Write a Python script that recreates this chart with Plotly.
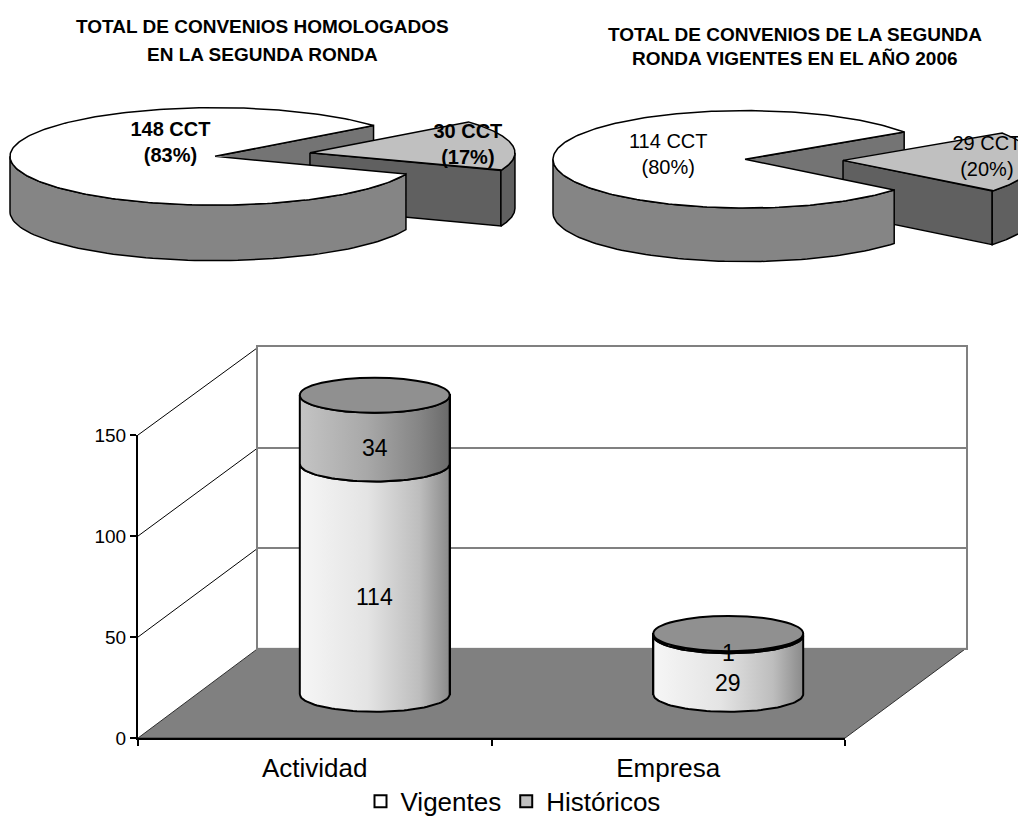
import numpy as np
import plotly.graph_objects as go

OFF = 8                      # default page margin of the html body
W, H = 1026, 835             # browser window
FW, FH = W - OFF, H - 2 * OFF  # figure size so that the page fits in the window
FONT = "Liberation Sans, Arial, sans-serif"

# ---------------- data ----------------
pie_left_title = ["TOTAL DE CONVENIOS HOMOLOGADOS", "EN LA SEGUNDA RONDA"]
pie_right_title = ["TOTAL DE CONVENIOS DE LA SEGUNDA", "RONDA VIGENTES EN EL AÑO 2006"]
pie_slices = ["Actividad", "Empresa"]
pie_left_values = [148, 30]
pie_right_values = [114, 29]

categories = ["Actividad", "Empresa"]
vigentes = [114, 29]
historicos = [34, 1]
y_ticks = [0, 50, 100, 150]

# ---------------- helpers (window pixels -> paper) ----------------
def fx(px):
    return (px - OFF) / FW


def fy(py):
    return 1 - (py - OFF) / FH


def ell(cx, cy, rx, ry, a_deg):
    a = np.radians(a_deg)
    return cx + rx * np.cos(a), cy - ry * np.sin(a)


def poly(xs, ys, fill, lw=1.5):
    xs = list(xs) + [xs[0]]
    ys = list(ys) + [ys[0]]
    return go.Scatter(x=xs, y=ys, mode="lines", fill="toself", fillcolor=fill,
                      line=dict(color="black", width=lw), xaxis="x2", yaxis="y2",
                      hoverinfo="skip", showlegend=False)


def pie3d(values, cx, cy, rx, ry, depth, small_center, explode,
          tops, sides, radials, label_r, label_dy, bold):
    total = sum(values)
    spans = [360 * v / total for v in values]
    start = small_center + spans[1] / 2
    a0s = [start, start + spans[0]]
    a1s = [start + spans[0], start + 360]
    apex = []
    for i in range(2):
        mid = (a0s[i] + a1s[i]) / 2
        d = explode if i == 1 else 0
        ox, oy = ell(0, 0, rx * d, ry * d, mid)
        apex.append((cx + ox, cy + oy))
    traces = []
    # radial walls
    for i in [0, 1]:
        px, py = apex[i]
        for a, vis in [(a0s[i], np.cos(np.radians(a0s[i])) > 0),
                       (a1s[i], np.cos(np.radians(a1s[i])) < 0)]:
            if vis:
                ex, ey = ell(px, py, rx, ry, a)
                traces.append(poly([px, ex, ex, px], [py, ey, ey + depth, py + depth], radials[i]))
    # outer curved walls
    for i in [1, 0]:
        px, py = apex[i]
        for k in [-1, 0, 1]:
            lo = max(a0s[i], 180 + 360 * k)
            hi = min(a1s[i], 360 + 360 * k)
            if hi > lo:
                t = np.linspace(lo, hi, 80)
                xs, ys = ell(px, py, rx, ry, t)
                X = list(xs) + list(xs[::-1])
                Y = list(ys) + list((ys + depth)[::-1])
                traces.append(poly(X, Y, sides[i]))
    # top faces
    for i in [0, 1]:
        px, py = apex[i]
        t = np.linspace(a0s[i], a1s[i], 240)
        xs, ys = ell(px, py, rx, ry, t)
        traces.append(poly([px] + list(xs), [py] + list(ys), tops[i]))
    # labels
    lx, ly, lt = [], [], []
    for i in range(2):
        px, py = apex[i]
        mid = (a0s[i] + a1s[i]) / 2
        x, y = ell(px, py, rx * label_r[i], ry * label_r[i], mid)
        lx.append(x)
        ly.append(y + label_dy[i])
        lt.append(f"{values[i]} CCT<br>({round(100 * values[i] / total)}%)")
    traces.append(go.Scatter(x=lx, y=ly, text=lt, mode="text", xaxis="x2", yaxis="y2",
                             textfont=dict(family=FONT, size=20, color="black",
                                           weight="bold" if bold else "normal"),
                             hoverinfo="skip", showlegend=False, cliponaxis=False))
    return traces


fig = go.Figure()

# invisible anchors so the wall and front axes are drawn
fig.add_trace(go.Scatter(x=[0.5], y=[0], mode="markers", marker=dict(opacity=0),
                         xaxis="x", yaxis="y", hoverinfo="skip", showlegend=False))
xs_idx = list(range(len(categories)))
fig.add_trace(go.Scatter(x=xs_idx, y=[0] * len(xs_idx), mode="markers", marker=dict(opacity=0),
                         xaxis="x3", yaxis="y3", hoverinfo="skip", showlegend=False))

# ---------------- pies ----------------
for tr in pie3d(pie_left_values, 215, 150, 205, 50, 57, 9, 0.469,
                tops=["#ffffff", "#c0c0c0"], sides=["#858585", "#606060"],
                radials=["#747474", "#606060"], label_r=[0.22, 0.78], label_dy=[-14, -1],
                bold=True):
    fig.add_trace(tr)
for tr in pie3d(pie_right_values, 745, 153, 192, 50, 55, -2.5, 0.511,
                tops=["#ffffff", "#c0c0c0"], sides=["#858585", "#606060"],
                radials=["#747474", "#606060"], label_r=[0.4, 0.75], label_dy=[-2, -4],
                bold=False):
    fig.add_trace(tr)

# ---------------- bars (cylinders) ----------------
VIG_LEG = "#ffffff"
HIS_LEG = "#c0c0c0"
TOP_C = "#909090"
VIG_GRAD = [[0, "#f6f6f6"], [0.45, "#e4e4e4"], [0.8, "#bdbdbd"], [1, "#8a8a8a"]]
HIS_GRAD = [[0, "#c4c4c4"], [0.45, "#a8a8a8"], [0.8, "#858585"], [1, "#6a6a6a"]]
BW = 0.424
RY = 8.7

fig.add_trace(go.Bar(x=xs_idx, y=vigentes, name="Vigentes", width=BW,
                     marker=dict(color=VIG_LEG, line=dict(color="black", width=2)),
                     hovertext=categories, xaxis="x4", yaxis="y4"))
fig.add_trace(go.Bar(x=xs_idx, y=historicos, name="Históricos", width=BW,
                     marker=dict(color=HIS_LEG, line=dict(color="black", width=2)),
                     hovertext=categories, xaxis="x4", yaxis="y4"))


def cylinder_face(xc, base, top, grad):
    """Front face of a cylinder segment, computed from the stacked values."""
    t1 = np.linspace(np.pi, 2 * np.pi, 60)
    t2 = t1[::-1]
    xs = list(xc + (BW / 2) * np.cos(t1)) + list(xc + (BW / 2) * np.cos(t2))
    ys = list(base + RY * np.sin(t1)) + list(top + RY * np.sin(t2))
    xs.append(xs[0])
    ys.append(ys[0])
    return go.Scatter(x=xs, y=ys, mode="lines", fill="toself",
                      fillgradient=dict(type="horizontal", colorscale=grad),
                      line=dict(color="black", width=2), xaxis="x4", yaxis="y4",
                      hoverinfo="skip", showlegend=False)


for i, (v, h) in enumerate(zip(vigentes, historicos)):
    fig.add_trace(cylinder_face(i, 0, v, VIG_GRAD))
for i, (v, h) in enumerate(zip(vigentes, historicos)):
    fig.add_trace(cylinder_face(i, v, v + h, HIS_GRAD))

# geometry of the pseudo-3D frame (window pixels)
FL, FR, FB, FT = 138, 845, 747, 436        # front axes
BL, BR, BB, BT = 258, 966, 655, 346        # back wall
K = (702 - 391) / 150                       # bar axis px/unit
BAR_L, BAR_R, BAR_B = 198, 905, 702
YMIN, YMAX = -15, 170

shapes = []
# floor
shapes.append(dict(type="path", xref="paper", yref="paper", layer="below",
                   path=f"M {fx(FL)},{fy(FB)} L {fx(BL)},{fy(BB)} L {fx(BR)},{fy(BB)} L {fx(FR)},{fy(FB)} Z",
                   fillcolor="#808080", line=dict(color="#303030", width=1)))
# left wall diagonals
for v in y_ticks[1:]:
    y_front = FB - (FB - FT) * v / 150
    y_back = BB - (BB - BT) * v / 150
    shapes.append(dict(type="line", xref="paper", yref="paper", layer="below",
                       x0=fx(FL), y0=fy(y_front), x1=fx(BL), y1=fy(y_back),
                       line=dict(color="black", width=1)))

# cylinder tops
for i, (v, h) in enumerate(zip(vigentes, historicos)):
    shapes.append(dict(type="circle", xref="x4", yref="y4", layer="above",
                       x0=i - BW / 2, x1=i + BW / 2, y0=v + h - RY, y1=v + h + RY,
                       fillcolor=TOP_C, line=dict(color="black", width=2)))

annotations = []
for i, (v, h) in enumerate(zip(vigentes, historicos)):
    for val, mid in [(v, v / 2), (h, v + h / 2)]:
        annotations.append(dict(x=i, y=mid, xref="x4", yref="y4", text=str(val),
                                showarrow=False, yshift=-18,
                                font=dict(family=FONT, size=23, color="black")))

# titles
for lines, xc, ys in [(pie_left_title, 262, [17, 45]), (pie_right_title, 795, [25, 50])]:
    for t, yy in zip(lines, ys):
        annotations.append(dict(x=fx(xc), y=fy(yy), xref="paper", yref="paper", text=t,
                                showarrow=False, xanchor="center", yanchor="middle",
                                font=dict(family=FONT, size=19, color="black", weight="bold")))

fig.update_layout(
    width=FW, height=FH, autosize=False,
    margin=dict(l=0, r=0, t=0, b=0),
    paper_bgcolor="white", plot_bgcolor="rgba(0,0,0,0)",
    barmode="stack", bargap=0,
    font=dict(family=FONT, color="black"),
    shapes=shapes, annotations=annotations,
    showlegend=True,
    legend=dict(orientation="h", x=fx(513), xanchor="center", y=fy(812), yanchor="middle",
                font=dict(family=FONT, size=26, color="black"), bgcolor="rgba(0,0,0,0)",
                traceorder="normal", itemsizing="constant"),
    # back wall
    xaxis=dict(domain=[fx(BL), fx(BR)], range=[0, 1], showgrid=False, zeroline=False,
               showticklabels=False, ticks="", showline=True, mirror=True,
               linecolor="#808080", linewidth=2, anchor="y", fixedrange=True),
    yaxis=dict(domain=[fy(BB), fy(BT)], range=[0, 150], tickvals=y_ticks, showgrid=True,
               gridcolor="#808080", gridwidth=1.5, zeroline=False, showticklabels=False,
               ticks="", showline=True, mirror=True, linecolor="#808080", linewidth=2,
               anchor="x", fixedrange=True),
    # pixel canvas for pies (window pixel coordinates)
    xaxis2=dict(domain=[0, 1], range=[OFF, OFF + FW], visible=False, anchor="y2", fixedrange=True),
    yaxis2=dict(domain=[0, 1], range=[OFF + FH, OFF], visible=False, anchor="x2", fixedrange=True),
    # front axes
    xaxis3=dict(domain=[fx(FL), fx(FR)], range=[-0.5, 1.5], tickvals=xs_idx, ticktext=categories,
                ticks="", showgrid=False, zeroline=False, showline=True, linecolor="black",
                linewidth=2, tickfont=dict(family=FONT, size=26, color="black"),
                ticklabelstandoff=6,
                minor=dict(tickvals=[-0.5, 0.5, 1.5], ticks="outside", ticklen=6,
                           tickcolor="black", tickwidth=1.5),
                anchor="y3", fixedrange=True),
    yaxis3=dict(domain=[fy(FB), fy(FT)], range=[0, 150], tickvals=y_ticks, ticks="outside",
                ticklen=6, tickwidth=1.5, tickcolor="black", showgrid=False, zeroline=False,
                showline=True, linecolor="black", linewidth=2,
                tickfont=dict(family=FONT, size=19, color="black"), anchor="x3", fixedrange=True),
    # bar axes (mid-depth)
    xaxis4=dict(domain=[fx(BAR_L), fx(BAR_R)], range=[-0.5, 1.5], visible=False, anchor="y4",
                fixedrange=True),
    yaxis4=dict(domain=[fy(BAR_B + K * (0 - YMIN)), fy(BAR_B - K * YMAX)], range=[YMIN, YMAX],
                visible=False, anchor="x4", fixedrange=True),
)

fig.write_html("out.html")
